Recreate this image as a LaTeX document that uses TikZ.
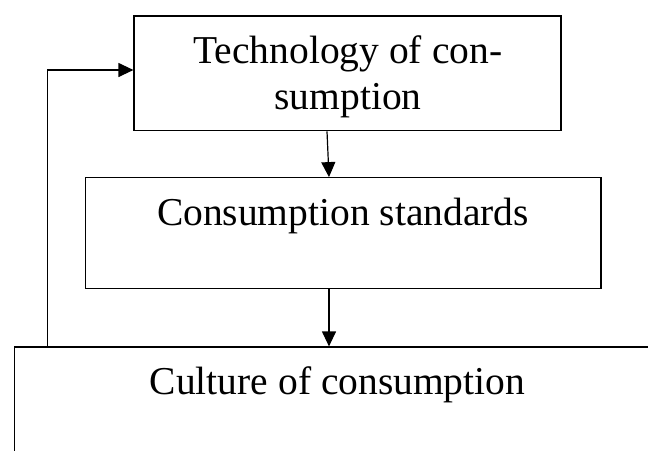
\documentclass[tikz,border=0pt]{standalone}
\usepackage{fontspec}
\setmainfont{Liberation Serif}
\usetikzlibrary{arrows.meta}
\begin{document}
\begin{tikzpicture}[x=1pt,y=-1pt,
  box/.style={draw, line width=1.2pt, rectangle, inner sep=0pt},
  lbl/.style={anchor=base, inner sep=0pt, font=\fontsize{39.5}{46}\selectfont},
  conn/.style={line width=1.2pt, -{Triangle[length=15pt,width=14pt]}}]
\useasboundingbox (0,0) rectangle (648,450);
\clip (0,0) rectangle (648,450);
% boxes
\node[box, minimum width=427pt, minimum height=114.7pt] (tech) at (347.5,73.35) {};
\node[box, minimum width=515.5pt, minimum height=110.8pt] (std) at (343.25,233.1) {};
\node[box, minimum width=665.5pt, minimum height=133pt] (cult) at (347.25,413.5) {};
% texts
\node[lbl] (techa) at (347.8,63.5) {Technology of con-};
\node[lbl] (techb) at (348,109.5) {sumption};
\node[lbl] (stdt) at (343,225.7) {Consumption standards};
\node[lbl] (cultt) at (337.5,394) {Culture of consumption};
% connectors
\draw[conn] ([xshift=-20.5pt]tech.south) -- ([xshift=-14.25pt]std.north);
\draw[conn] ([xshift=-14.25pt]std.south) -- ([xshift=-18.25pt]cult.north);
\coordinate (fb) at (47.3,70);
\draw[conn] (fb |- cult.north) -- (fb) -- (tech.west |- fb);
\end{tikzpicture}
\end{document}
